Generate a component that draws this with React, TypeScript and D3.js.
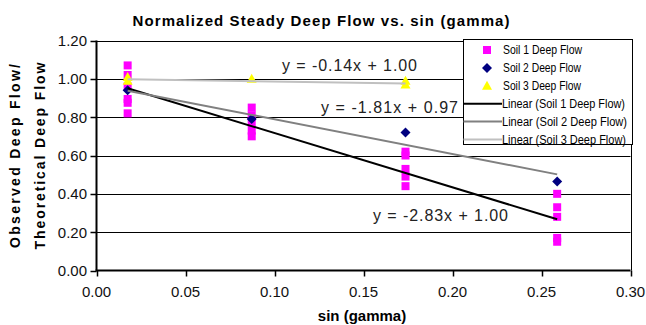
import React from "react";
import * as d3 from "d3";

const chartTitle = "Normalized Steady Deep Flow vs. sin (gamma)";
const xTitle = "sin (gamma)";
const yTitleLines = ["Observed Deep Flow/", "Theoretical Deep Flow"];

const xTicks = [0, 0.05, 0.1, 0.15, 0.2, 0.25, 0.3];
const yTicks = [0, 0.2, 0.4, 0.6, 0.8, 1.0, 1.2];

const soil1X = [0.0175, 0.0175, 0.0175, 0.0175, 0.0175, 0.0175, 0.0872, 0.0872, 0.0872, 0.0872, 0.0872, 0.1736, 0.1736, 0.1736, 0.1736, 0.1736, 0.2588, 0.2588, 0.2588, 0.2588, 0.2588];
const soil1Y = [1.07, 1.02, 0.96, 0.895, 0.875, 0.82, 0.85, 0.81, 0.77, 0.73, 0.7, 0.62, 0.6, 0.53, 0.49, 0.44, 0.4, 0.33, 0.28, 0.17, 0.15];
const soil2X = [0.0175, 0.0872, 0.1736, 0.2588];
const soil2Y = [0.94, 0.79, 0.72, 0.465];
const soil3X = [0.0175, 0.0175, 0.0872, 0.1736, 0.1736];
const soil3Y = [1.01, 0.99, 1.0, 0.99, 0.97];

const seriesNames = ["Soil 1 Deep Flow", "Soil 2 Deep Flow", "Soil 3 Deep Flow"];
const trendNames = ["Linear (Soil 1 Deep Flow)", "Linear (Soil 2 Deep Flow)", "Linear (Soil 3 Deep Flow)"];
const trendSlopes = [-2.83, -1.81, -0.14];
const trendIntercepts = [1.0, 0.97, 1.0];
const trendLabels = ["y = -2.83x + 1.00", "y = -1.81x + 0.97", "y = -0.14x + 1.00"];

const FONT = "'Liberation Sans', Arial, sans-serif";
const seriesColors = ["#FF00FF", "#000080", "#FFFF00"];
const trendColors = ["#000000", "#808080", "#C0C0C0"];

export default function App() {
  const W = 646, H = 325;
  const x = d3.scaleLinear().domain([0, 0.3]).range([96.5, 630.5]);
  const y = d3.scaleLinear().domain([0, 1.2]).range([270.5, 40.5]);

  const seriesX = [soil1X, soil2X, soil3X];
  const seriesY = [soil1Y, soil2Y, soil3Y];

  const line = d3.line<[number, number]>().x((d) => x(d[0])).y((d) => y(d[1]));

  const square = (cx: number, cy: number, key: string, color: string) => (
    <rect key={key} x={cx - 4} y={cy - 4} width={8} height={8} fill={color} />
  );
  const diamond = (cx: number, cy: number, key: string, color: string) => (
    <path key={key} d={`M${cx},${cy - 5}L${cx + 5},${cy}L${cx},${cy + 5}L${cx - 5},${cy}Z`} fill={color} />
  );
  const triangle = (cx: number, cy: number, key: string, color: string) => (
    <path key={key} d={`M${cx},${cy - 5}L${cx + 5},${cy + 4}L${cx - 5},${cy + 4}Z`} fill={color} />
  );
  const markers = [square, diamond, triangle];

  const trendLabelPos = [
    { x: 373, y: 221 },
    { x: 321, y: 113 },
    { x: 282, y: 71 },
  ];
  const trendLabelLen = [135, 137, 135];

  const legendX = 463.5, legendY = 39.5, legendW = 169, legendH = 105;
  const legendRow = (i: number) => 50 + i * 17.9;
  const legendTextLen = [79, 78, 78, 123, 125, 124];

  return (
    <svg width={W} height={H} style={{ position: "absolute", left: 0, top: 0, background: "#fff" }} fontFamily={FONT}>
      <rect x={0} y={0} width={W} height={H} fill="#fff" />
      <text x={321} y={26} textAnchor="middle" fontSize={15} fontWeight="bold" textLength={377} lengthAdjust="spacing">
        {chartTitle}
      </text>
      {yTicks.filter((t) => t > 0).map((t) => (
        <line key={"g" + t} x1={x(0)} x2={x(0.3)} y1={Math.round(y(t)) + 0.5} y2={Math.round(y(t)) + 0.5} stroke="#000" strokeWidth={1} />
      ))}
      <line x1={Math.round(x(0.3)) + 0.5} x2={Math.round(x(0.3)) + 0.5} y1={y(1.2)} y2={y(0)} stroke="#000" strokeWidth={1} />
      <line x1={x(0)} x2={x(0)} y1={y(1.2)} y2={y(0)} stroke="#000" strokeWidth={2} />
      <line x1={x(0) - 1} x2={x(0.3)} y1={y(0)} y2={y(0)} stroke="#000" strokeWidth={2} />
      {yTicks.map((t) => (
        <g key={"yt" + t}>
          <line x1={x(0) - 6} x2={x(0)} y1={Math.round(y(t)) + 0.5} y2={Math.round(y(t)) + 0.5} stroke="#000" strokeWidth={1.5} />
          <text x={87} y={y(t) + 5.5} textAnchor="end" fontSize={15} fill="#111">
            {d3.format(".2f")(t)}
          </text>
        </g>
      ))}
      {xTicks.map((t) => (
        <g key={"xt" + t}>
          <line x1={Math.round(x(t)) + 0.5} x2={Math.round(x(t)) + 0.5} y1={y(0)} y2={y(0) + 6} stroke="#000" strokeWidth={1.5} />
          <text x={x(t)} y={297} textAnchor="middle" fontSize={15} fill="#111">
            {d3.format(".2f")(t)}
          </text>
        </g>
      ))}
      <text x={362} y={321} textAnchor="middle" fontSize={15} fontWeight="bold">{xTitle}</text>
      {yTitleLines.map((s, i) => (
        <text key={s} transform={`translate(${20 + i * 25},156) rotate(-90)`} textAnchor="middle" fontSize={14} fontWeight="bold" textLength={i === 0 ? 184 : 187} lengthAdjust="spacing">
          {s}
        </text>
      ))}
      {seriesX.map((xs, si) => (
        <g key={"s" + si}>
          {xs.map((xv, j) => markers[si](x(xv), y(seriesY[si][j]), `m${si}-${j}`, seriesColors[si]))}
        </g>
      ))}
      {trendSlopes.map((m, i) => {
        const xs = seriesX[i];
        const x0 = d3.min(xs) as number, x1 = d3.max(xs) as number;
        return (
          <path key={"tl" + i} d={line([[x0, m * x0 + trendIntercepts[i]], [x1, m * x1 + trendIntercepts[i]]]) || ""} stroke={trendColors[i]} strokeWidth={2} fill="none" />
        );
      })}
      {trendLabels.map((s, i) => (
        <text key={s} x={trendLabelPos[i].x} y={trendLabelPos[i].y} fontSize={16} fill="#222" textLength={trendLabelLen[i]} lengthAdjust="spacing">
          {s}
        </text>
      ))}
      <rect x={legendX} y={legendY} width={legendW} height={legendH} fill="#fff" stroke="#000" strokeWidth={1} />
      {seriesNames.map((s, i) => (
        <g key={s}>
          {markers[i](487, legendRow(i), "lm" + i, seriesColors[i])}
          <text x={503} y={legendRow(i) + 4} fontSize={12} textLength={legendTextLen[i]} lengthAdjust="spacingAndGlyphs">{s}</text>
        </g>
      ))}
      {trendNames.map((s, i) => (
        <g key={s}>
          <line x1={legendX} x2={502} y1={legendRow(i + 3)} y2={legendRow(i + 3)} stroke={trendColors[i]} strokeWidth={2} />
          <text x={502} y={legendRow(i + 3) + 4} fontSize={12} textLength={legendTextLen[i + 3]} lengthAdjust="spacingAndGlyphs">{s}</text>
        </g>
      ))}
    </svg>
  );
}
